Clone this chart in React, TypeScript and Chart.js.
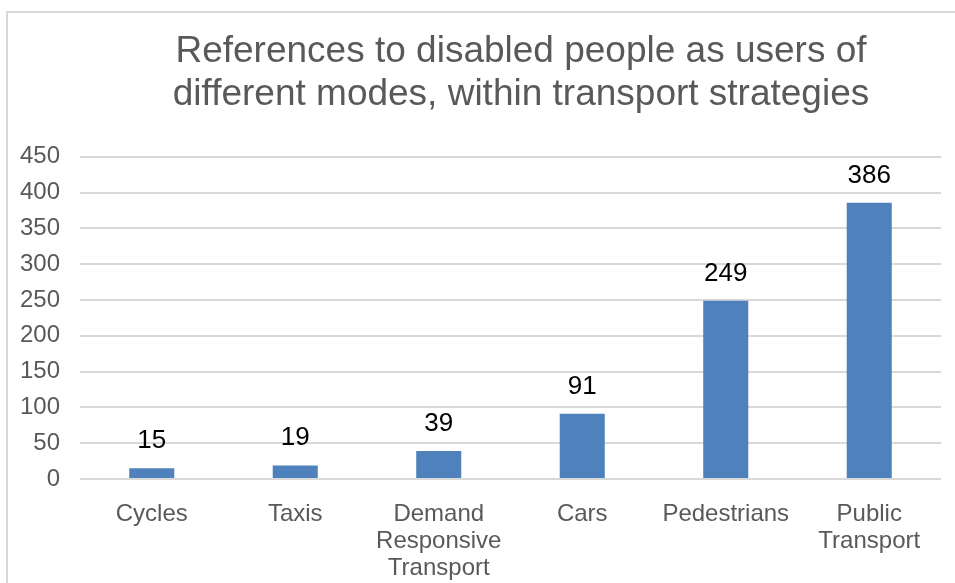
import React, { useEffect, useRef } from "react";
import { Chart, registerables } from "chart.js";

Chart.register(...registerables);

const categories: (string | string[])[] = [
  "Cycles",
  "Taxis",
  ["Demand", "Responsive", "Transport"],
  "Cars",
  "Pedestrians",
  ["Public", "Transport"],
];
const values: number[] = [15, 19, 39, 91, 249, 386];
const titleLines: string[] = [
  "References to disabled people as users of",
  "different modes, within transport strategies",
];
const yMax = 450;
const yStep = 50;

const FONT = "'Liberation Sans', Arial, sans-serif";

const dataLabelPlugin = {
  id: "dataLabels",
  afterDatasetsDraw(chart: any) {
    const ctx = chart.ctx;
    const meta = chart.getDatasetMeta(0);
    ctx.save();
    ctx.font = `26px ${FONT}`;
    ctx.fillStyle = "#000000";
    ctx.textAlign = "center";
    ctx.textBaseline = "alphabetic";
    meta.data.forEach((bar: any, i: number) => {
      ctx.fillText(String(values[i]), bar.x, bar.y - 20);
    });
    ctx.restore();
  },
};

export default function App() {
  const ref = useRef<HTMLCanvasElement | null>(null);
  useEffect(() => {
    if (!ref.current) return;
    const chart = new Chart(ref.current, {
      type: "bar",
      data: {
        labels: categories,
        datasets: [
          {
            data: values,
            backgroundColor: "#4F81BD",
            barPercentage: 0.314,
            categoryPercentage: 1,
            yAxisID: "y",
          },
        ],
      },
      options: {
        animation: false,
        responsive: false,
        maintainAspectRatio: false,
        layout: { padding: 0 },
        plugins: {
          legend: { display: false },
          tooltip: { enabled: false },
          title: {
            display: true,
            text: titleLines,
            color: "#595959",
            font: { family: FONT, size: 37, weight: "normal", lineHeight: 1.16 },
            padding: { top: 17, bottom: 41 },
          },
        },
        scales: {
          x: {
            grid: { display: false },
            border: { display: false },
            ticks: {
              color: "#595959",
              font: { family: FONT, size: 24, lineHeight: 1.13 },
              padding: 14,
              maxRotation: 0,
              autoSkip: false,
            },
            afterFit(s: any) {
              s.height = 109;
            },
          },
          y: {
            min: 0,
            max: yMax,
            position: "left",
            grid: { color: "#d9d9d9", lineWidth: 2, drawTicks: false },
            border: { display: false },
            ticks: {
              stepSize: yStep,
              color: "#595959",
              font: { family: FONT, size: 24 },
              padding: 20,
            },
            afterFit(s: any) {
              s.width = 72;
            },
          },
          yR: {
            type: "linear",
            position: "right",
            display: true,
            grid: { display: false, drawTicks: false },
            border: { display: false },
            ticks: { display: false },
            afterFit(s: any) {
              s.width = 93;
            },
          },
        },
      },
      plugins: [dataLabelPlugin],
    } as any);
    return () => chart.destroy();
  }, []);

  return (
    <div
      style={{
        position: "fixed",
        left: 0,
        top: 0,
        width: 955,
        height: 583,
        overflow: "hidden",
        background: "#ffffff",
      }}
    >
      <div
        style={{
          position: "absolute",
          left: 6,
          top: 11,
          width: 1026,
          height: 590,
          border: "2px solid #d9d9d9",
          background: "#ffffff",
        }}
      >
        <canvas ref={ref} width={1026} height={575} style={{ display: "block" }} />
      </div>
    </div>
  );
}
